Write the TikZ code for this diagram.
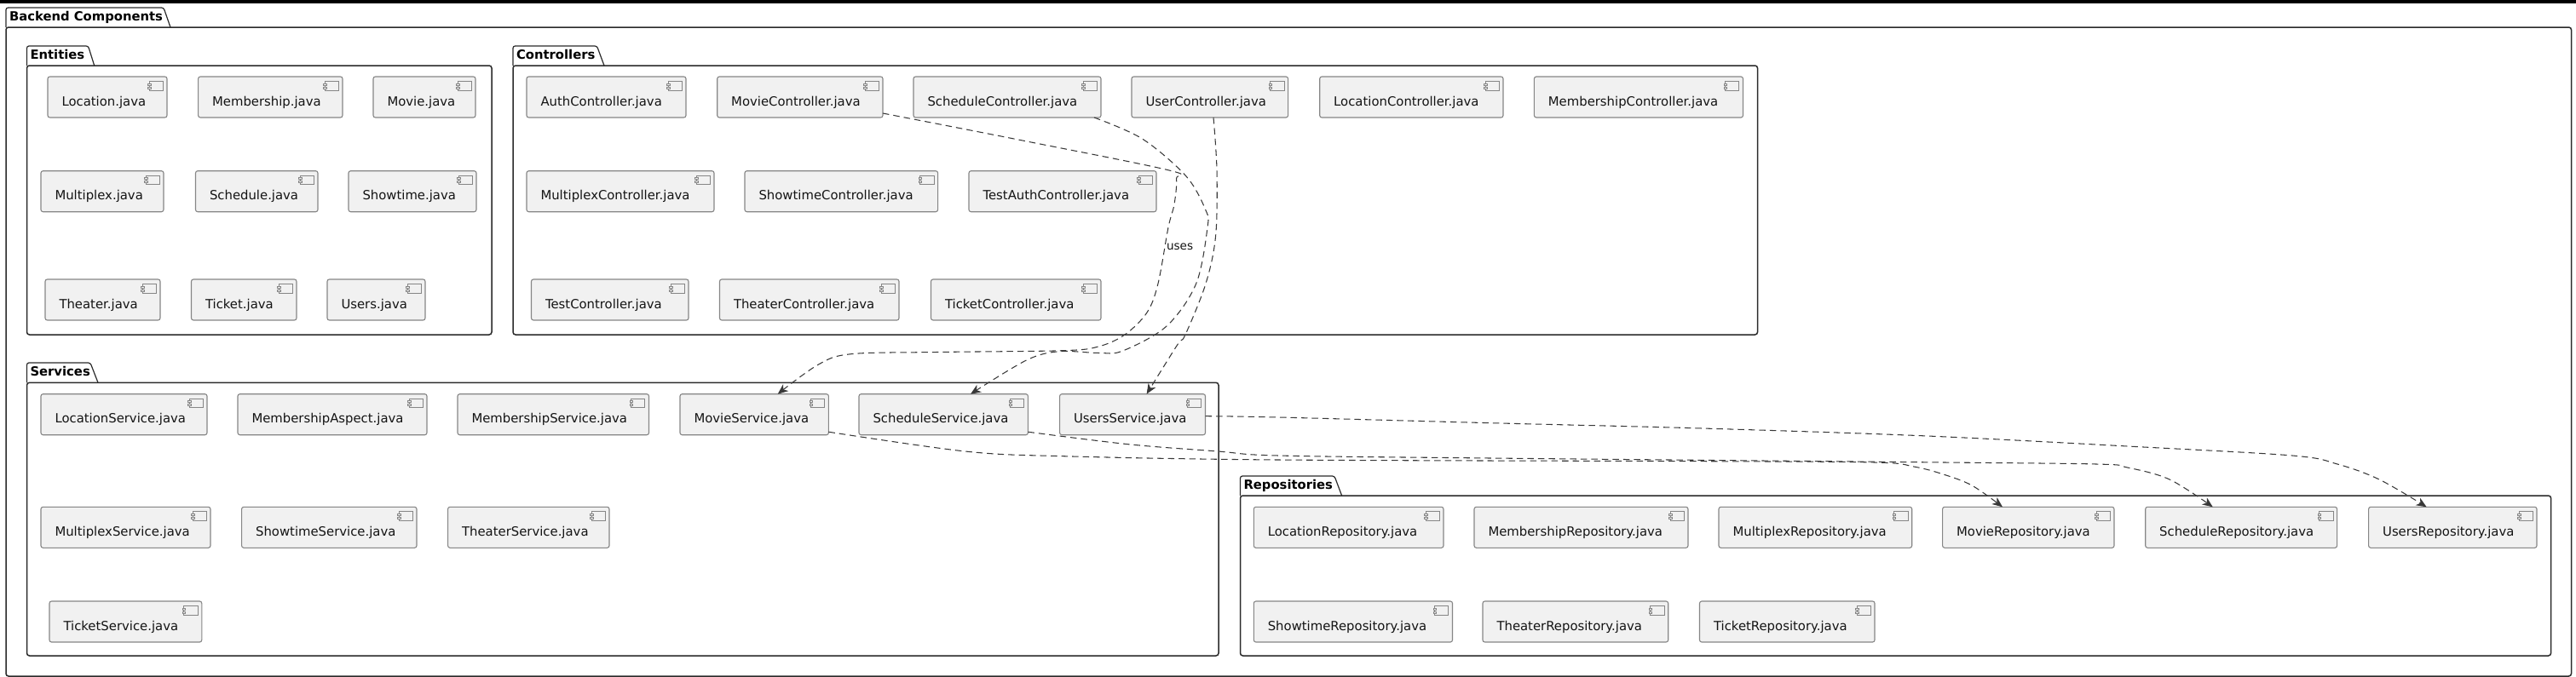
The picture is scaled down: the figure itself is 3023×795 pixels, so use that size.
\documentclass[tikz,border=0pt]{standalone}
\usepackage{fontspec}
\setmainfont{DejaVu Sans}
\usetikzlibrary{arrows.meta}
\definecolor{compfill}{HTML}{F1F1F1}
\definecolor{compline}{HTML}{868686}
\definecolor{pkgline}{HTML}{2A2A2A}
\definecolor{conline}{HTML}{383838}
\tikzset{
  compbox/.style={draw=compline,fill=compfill,line width=1.1pt,rounded corners=2.5pt,inner sep=0pt,outer sep=0pt,anchor=north west},
  comptext/.style={anchor=base west,inner sep=0pt,outer sep=0pt,text=black!92,font=\fontsize{14.85}{18}\selectfont},
  iconpart/.style={draw=compline,fill=compfill,line width=0.8pt},
  pkgbody/.style={draw=pkgline,line width=1.5pt,rounded corners=3pt,fill=white,inner sep=0pt,outer sep=0pt,anchor=north west},
  pkgtab/.style={draw=pkgline,line width=1.2pt,fill=white},
  pkgtitle/.style={anchor=base west,inner sep=0pt,outer sep=0pt,text=black,font=\fontsize{14.8}{18}\selectfont\bfseries},
  uses/.style={draw=conline,line width=1.05pt,dash pattern=on 7.5pt off 5pt,-{Stealth[length=12pt,width=10pt,inset=3.5pt]}},
  conlabel/.style={anchor=base west,inner sep=0pt,outer sep=0pt,text=black!92,font=\fontsize{13.6}{16}\selectfont},
}
% \comp{id}{x1}{y1}{x2}{text}
\newcommand{\comp}[5]{%
  \pgfmathsetmacro{\cw}{#4-#2}%
  \node[compbox,minimum width=\cw pt,minimum height=48pt] (#1) at (#2,#3) {};
  \node[comptext] (#1-label) at ([xshift=16.5pt,yshift=-34pt]#1.north west) {#5};
  \draw[iconpart] ([xshift=-21pt,yshift=-5.5pt]#1.north east) rectangle ([xshift=-4.7pt,yshift=-16pt]#1.north east);
  \draw[iconpart] ([xshift=-22.5pt,yshift=-8pt]#1.north east) rectangle ([xshift=-19pt,yshift=-10pt]#1.north east);
  \draw[iconpart] ([xshift=-22.5pt,yshift=-12pt]#1.north east) rectangle ([xshift=-19pt,yshift=-14pt]#1.north east);
}
% \pkg{id}{left}{tabtop}{line}{right}{bottom}{tabtopright}{tabbottomright}{title}
\newcommand{\pkg}[9]{%
  \pgfmathsetmacro{\pw}{#5-#2}%
  \pgfmathsetmacro{\ph}{#6-#4}%
  \draw[pkgtab,rounded corners=2.5pt] (#2,#4) -- (#2,#3) -- (#7,#3) -- (#8,#4);
  \node[pkgbody,minimum width=\pw pt,minimum height=\ph pt] (#1) at (#2,#4) {};
  \node[pkgtitle] (#1-title) at ([xshift=4pt,yshift=8pt]#1.north west) {#9};
}
\begin{document}
\begin{tikzpicture}[x=1pt,y=-1pt]
\useasboundingbox (0,0) rectangle (3023,795);
\fill[white] (0,0) rectangle (3023,795);
\fill[black] (0,0) rectangle (3023,3.5);

\pkg{backend}{7}{9}{32}{3017.5}{794}{192}{200}{Backend Components}
\pkg{entities}{31.5}{54}{77}{577}{393}{103.5}{110.7}{Entities}
\pkg{controllers}{602}{54}{77}{2062.5}{393}{700.5}{709}{Controllers}
\pkg{services}{31.5}{426}{449.3}{1430}{770}{106}{115}{Services}
\pkg{repositories}{1455.5}{559}{582}{2993.6}{770}{1566}{1574.6}{Repositories}

% Entities
\comp{eLocation}{56}{90}{196}{Location.java}
\comp{eMembership}{232.6}{90}{402}{Membership.java}
\comp{eMovie}{438}{90}{558}{Movie.java}
\comp{eMultiplex}{48}{200.7}{192}{Multiplex.java}
\comp{eSchedule}{229.5}{200.7}{373}{Schedule.java}
\comp{eShowtime}{409}{200.7}{559}{Showtime.java}
\comp{eTheater}{53}{328}{188}{Theater.java}
\comp{eTicket}{224.5}{328}{348}{Ticket.java}
\comp{eUsers}{384}{328}{499}{Users.java}

% Controllers
\comp{cAuth}{618}{90}{805}{AuthController.java}
\comp{cMovie}{841.7}{90}{1036}{MovieController.java}
\comp{cSchedule}{1072}{90}{1292}{ScheduleController.java}
\comp{cUser}{1328}{90}{1511.6}{UserController.java}
\comp{cLocation}{1548.7}{90}{1764}{LocationController.java}
\comp{cMembership}{1800.4}{90}{2045.5}{MembershipController.java}
\comp{cMultiplex}{618}{200.7}{838}{MultiplexController.java}
\comp{cShowtime}{874}{200.7}{1100.6}{ShowtimeController.java}
\comp{cTestAuth}{1137}{200.7}{1357}{TestAuthController.java}
\comp{cTest}{623.5}{328}{808}{TestController.java}
\comp{cTheater}{844.5}{328}{1055}{TheaterController.java}
\comp{cTicket}{1092.5}{328}{1292}{TicketController.java}

% Services
\comp{sLocation}{48}{462.7}{243}{LocationService.java}
\comp{sAspect}{279}{462.7}{501}{MembershipAspect.java}
\comp{sMembership}{537}{462.7}{761.5}{MembershipService.java}
\comp{sMovie}{798}{462.7}{972.4}{MovieService.java}
\comp{sSchedule}{1008}{462.7}{1206.4}{ScheduleService.java}
\comp{sUsers}{1243.6}{462.7}{1414.5}{UsersService.java}
\comp{sMultiplex}{48}{595.3}{247}{MultiplexService.java}
\comp{sShowtime}{283.6}{595.3}{489}{ShowtimeService.java}
\comp{sTheater}{525.6}{595.3}{715}{TheaterService.java}
\comp{sTicket}{58}{706}{236.8}{TicketService.java}

% Repositories
\comp{rLocation}{1471.3}{595.3}{1694}{LocationRepository.java}
\comp{rMembership}{1730}{595.3}{1981}{MembershipRepository.java}
\comp{rMultiplex}{2017}{595.3}{2243.7}{MultiplexRepository.java}
\comp{rMovie}{2279.6}{595.3}{2481}{MovieRepository.java}
\comp{rSchedule}{2517.7}{595.3}{2742.6}{ScheduleRepository.java}
\comp{rUsers}{2779.6}{595.3}{2977}{UsersRepository.java}
\comp{rShowtime}{1471.3}{706}{1704.5}{ShowtimeRepository.java}
\comp{rTheater}{1740}{706}{1957.7}{TheaterRepository.java}
\comp{rTicket}{1994.5}{706}{2200}{TicketRepository.java}

% Connectors
\draw[uses] plot[smooth,tension=0.55] coordinates {([yshift=5pt]cMovie.south east) (1200,165) (1372,200) (1380.5,210) (1378,240) (1371,267) (1359,333) (1346,367) (1320,393) (1289,407) (1247,411.7) (1100,413.5) (999,415.7) (960.5,428) ([xshift=114.7pt]sMovie.north west)};
\draw[uses] plot[smooth,tension=0.55] coordinates {([xshift=212pt]cSchedule.south west) (1340.5,163) (1392,207) (1415,247) (1417,267) (1403.7,333) (1369,383) (1317.6,412) (1290,414.5) (1243,412.7) (1204.5,423) ([xshift=131pt]sSchedule.north west)};
\draw[uses] plot[smooth,tension=0.55] coordinates {([xshift=96pt]cUser.south west) (1428,200) (1426.6,277) (1415,333) (1391,393) (1381.6,405) ([xshift=102pt]sUsers.north west)};
\node[conlabel] (usesLabel) at (1369,293) {uses};
\draw[uses] plot[smooth,tension=0.55] coordinates {([yshift=-26pt]sUsers.north east) (1500,490) (1749,496.7) (1997.5,503) (2255,511.7) (2496.5,524) (2690,535) (2743,545) (2792,563) ([xshift=68pt]rUsers.north west)};
\draw[uses] plot[smooth,tension=0.55] coordinates {([yshift=3.5pt]sSchedule.south east) (1324,521.7) (1429.4,530) (1500,535) (1749,538) (2250,542.7) (2460,545) (2496.5,549) (2546,563) ([xshift=79pt]rSchedule.north west)};
\draw[uses] plot[smooth,tension=0.55] coordinates {([yshift=3.5pt]sMovie.south east) (1132.8,530) (1247.6,535.7) (1500,540) (1997.5,541.7) (2200,543) (2246,548) (2279.6,556.7) (2314,570) ([xshift=70.4pt]rMovie.north west)};
\end{tikzpicture}
\end{document}
